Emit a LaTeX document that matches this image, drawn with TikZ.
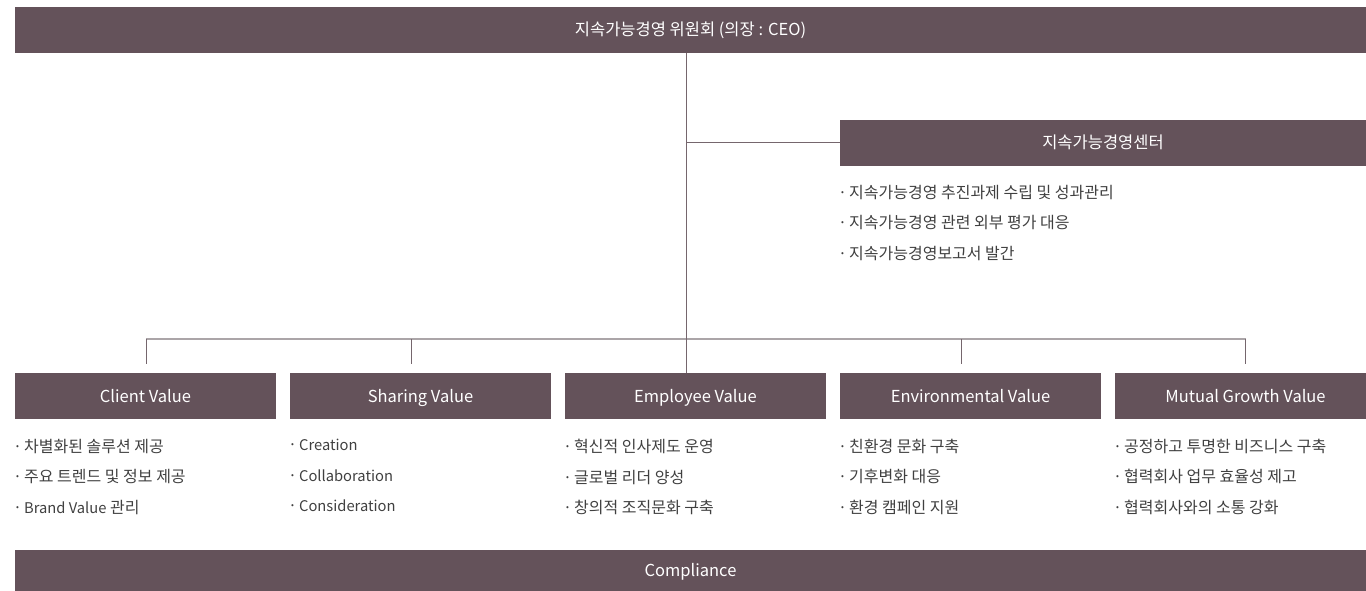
\documentclass[tikz,border=0pt]{standalone}
\usepackage{fontspec}
\setmainfont{Noto Sans CJK KR}
% Latin words sit a little smaller than the Hangul in the item lists
\newfontfamily\lat{Noto Sans CJK KR}[Scale=0.92]
% tight list bullet
\newcommand\bul{\kern-2pt·\kern2pt}
\definecolor{barfill}{HTML}{64525A}
\definecolor{trunkline}{HTML}{75666D}
\definecolor{branchline}{HTML}{ABA5A8}
\definecolor{bodytext}{HTML}{404040}
\begin{document}
\begin{tikzpicture}[x=1pt,y=-1pt,
  barbox/.style={fill=barfill, text=white, inner sep=0, outer sep=0,
    font=\fontsize{16.5}{18}\selectfont, text height=14pt, text depth=2pt,
    anchor=north west},
  valbox/.style={barbox, minimum width=261, minimum height=46},
  itemlist/.style={anchor=north west, inner sep=0, text=bodytext, align=left,
    font=\fontsize{16}{30.5}\selectfont},
  vline/.style={draw=trunkline, line width=1pt},
  hline/.style={draw=branchline, line width=1.2pt}]
\useasboundingbox (0,0) rectangle (1366,591);
\clip (0,0) rectangle (1366,591);

% committee and sustainability centre
\node[barbox, minimum width=1351, minimum height=46] (board) at (15,7) {지속가능경영 위원회 (의장 : CEO)};
\node[barbox, minimum width=526, minimum height=46] (centre) at (840,120) {지속가능경영센터};
\node[itemlist] (centrelist) at (840,185)
  {\bul 지속가능경영 추진과제 수립 및 성과관리\\\bul 지속가능경영 관련 외부 평가 대응\\\bul 지속가능경영보고서 발간};

% value boxes
\node[valbox] (client) at (15,373) {Client Value};
\node[valbox] (sharing) at (290,373) {Sharing Value};
\node[valbox] (employee) at (565,373) {Employee Value};
\node[valbox] (environ) at (840,373) {Environmental Value};
\node[valbox] (mutual) at (1115,373) {Mutual Growth Value};

\node[itemlist] (clientlist) at (15,439)
  {\bul 차별화된 솔루션 제공\\\bul 주요 트렌드 및 정보 제공\\\bul {\lat Brand Value} 관리};
\node[itemlist] (sharinglist) at (290,439)
  {\bul {\lat Creation}\\\bul {\lat Collaboration}\\\bul {\lat Consideration}};
\node[itemlist] (employeelist) at (565,439)
  {\bul 혁신적 인사제도 운영\\\bul 글로벌 리더 양성\\\bul 창의적 조직문화 구축};
\node[itemlist] (environlist) at (840,439)
  {\bul 친환경 문화 구축\\\bul 기후변화 대응\\\bul 환경 캠페인 지원};
\node[itemlist] (mutuallist) at (1115,439)
  {\bul 공정하고 투명한 비즈니스 구축\\\bul 협력회사 업무 효율성 제고\\\bul 협력회사와의 소통 강화};

\node[barbox, minimum width=1351, minimum height=41] (compliance) at (15,550) {Compliance};

% branch points on the distribution line
\coordinate (d1) at (146,339);
\coordinate (d2) at (411.5,339);
\coordinate (d3) at (686.5,339);
\coordinate (d4) at (961.5,339);
\coordinate (d5) at (1245.5,339);

% connectors
\draw[hline] (d1) -- (d5);
\draw[vline] (board.south -| d3) -- (employee.north -| d3);
\draw[vline] (d3 |- centre.west) -- (centre.west);
\foreach \d/\b in {d1/client, d2/sharing, d4/environ, d5/mutual}
  \draw[vline, shorten >=9pt] (\d) -- (\b.north -| \d);
\end{tikzpicture}
\end{document}
